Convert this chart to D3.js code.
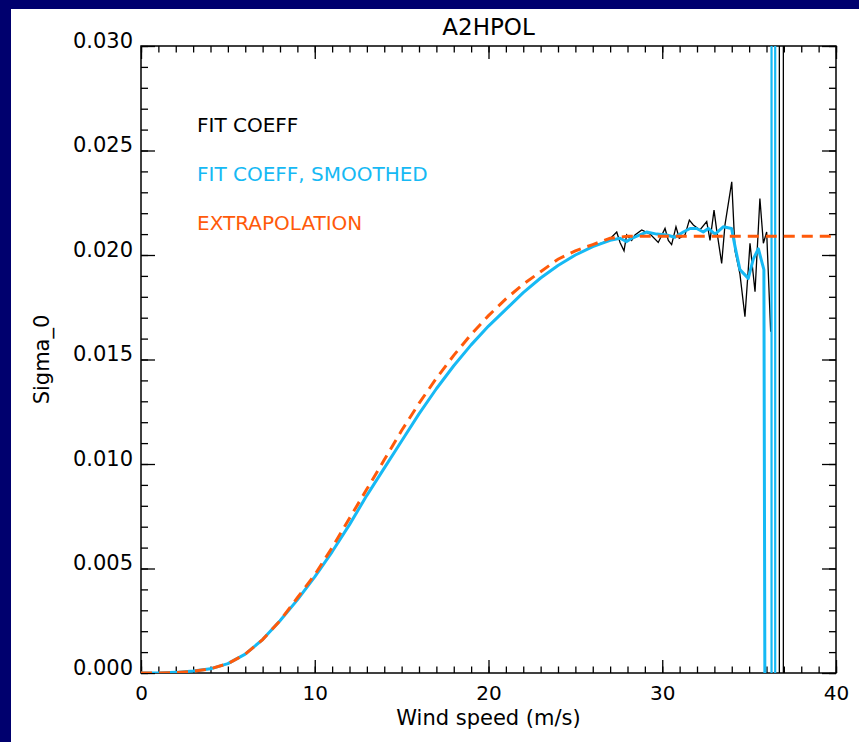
<!DOCTYPE html>
<html>
<head>
<meta charset="utf-8">
<script src="https://cdn.jsdelivr.net/npm/d3@7"></script>
<style>
    body { margin: 0; background: #ffffff; }
    text { font-family: "DejaVu Sans", sans-serif; }
</style>
</head>
<body>
<div id="chart"></div>
<script>
// wind speed grid for the smooth part (m/s)
const speedHead = [0, 1, 2, 3, 4, 5, 6, 7, 8, 9, 10, 11, 12, 13, 14, 15, 16, 17, 18, 19, 20, 21, 22, 23, 24, 25, 26]
// fit coefficient, smooth part (shared by raw and smoothed curve)
const fitHead = [0, 0.00000, 0.00003, 0.0001, 0.0002, 0.00045, 0.0009, 0.0016, 0.0025, 0.0035, 0.0046, 0.0058, 0.0071, 0.0085, 0.0098, 0.0111, 0.0124, 0.0136, 0.0147, 0.0157, 0.0166, 0.0174, 0.0182, 0.0189, 0.0195, 0.0200, 0.0204]

// raw fit coeff, noisy tail
const rawTailX = [26.9, 27.38, 27.57, 27.8, 27.95, 28.24, 28.43, 28.82, 29.3, 29.77, 30.16, 30.35, 30.54, 30.79, 30.98, 31.31, 31.56, 31.79, 32.17, 32.56, 32.75, 32.98, 33.13, 33.42, 33.61, 34.0, 34.19, 34.47, 34.76, 34.95, 35.05, 35.34, 35.62, 35.82, 36.01, 36.24]
const rawTailY = [0.0207, 0.0211, 0.0206, 0.0202, 0.02096, 0.0207, 0.02096, 0.0212, 0.0210, 0.0206, 0.02127, 0.0207, 0.0205, 0.02135, 0.0208, 0.02096, 0.02167, 0.02144, 0.0212, 0.0216, 0.0207, 0.02215, 0.0212, 0.0196, 0.02144, 0.0235, 0.0202, 0.0191, 0.01705, 0.0193, 0.02056, 0.01824, 0.0227, 0.02056, 0.0211, 0.01633]

// smoothed fit coeff, tail (last point runs off the bottom)
const smoothTailX = [27.0, 27.57, 27.95, 28.24, 28.72, 29.1, 29.68, 30.25, 30.73, 31.21, 31.6, 31.98, 32.36, 32.65, 33.04, 33.51, 33.99, 34.19, 34.47, 34.95, 35.24, 35.53, 35.85, 35.92]
const smoothTailY = [0.0207, 0.0208, 0.02064, 0.0208, 0.02096, 0.0211, 0.0210, 0.02096, 0.02085, 0.0211, 0.02127, 0.02127, 0.0211, 0.02127, 0.0210, 0.02135, 0.02127, 0.0204, 0.0193, 0.01888, 0.0198, 0.0203, 0.0193, -0.005]

// extrapolation
const extrapX = [0, 1, 2, 3, 4, 5, 6, 7, 8, 9, 10, 11, 12, 13, 14, 15, 16, 17, 18, 19, 20, 21, 22, 23, 24, 25, 26, 27, 28, 40]
const extrapY = [0, 0, 0.00002, 0.00008, 0.0002, 0.00045, 0.0009, 0.0016, 0.0025, 0.0036, 0.0047, 0.0060, 0.0074, 0.0088, 0.0102, 0.0116, 0.0129, 0.0141, 0.0152, 0.0162, 0.0171, 0.0179, 0.0186, 0.0192, 0.0198, 0.0202, 0.0205, 0.0208, 0.0209, 0.0209]

// speeds where the curves blow up (lines off the whole plot)
const smoothSpikes = [36.29, 36.50]
const rawSpikes = [36.74, 36.97]

const xTicks = [0, 10, 20, 30, 40]
const yTicks = [0, 0.005, 0.010, 0.015, 0.020, 0.025, 0.030]

const legendNames = ["FIT COEFF", "FIT COEFF, SMOOTHED", "EXTRAPOLATION"]

const colBlack = "#000000", colCyan = "#16b9f4", colOrange = "#ff5a0a"
const legendColors = [colBlack, colCyan, colOrange]

function dataViz() {
    const W = 859, H = 742
    const margin = { left: 141, top: 46, right: 23, bottom: 69 }

    const x = d3.scaleLinear().domain([0, 40]).range([margin.left, W - margin.right])
    const y = d3.scaleLinear().domain([0, 0.03]).range([H - margin.bottom, margin.top])

    const svg = d3.select("#chart").append("svg")
        .attr("width", W)
        .attr("height", H)

    // navy frame on top and left
    svg.append("rect").attr("x", 0).attr("y", 0).attr("width", W).attr("height", H).attr("fill", "#00006e")
    svg.append("rect").attr("x", 11).attr("y", 9).attr("width", W - 11).attr("height", H - 9).attr("fill", "#ffffff")

    svg.append("clipPath").attr("id", "plotclip")
        .append("rect")
        .attr("x", x(0)).attr("y", y(0.03))
        .attr("width", x(40) - x(0)).attr("height", y(0) - y(0.03))

    //axes, ticks pointing inwards on all four sides
    const fmtY = d3.format(".3f")
    function styleAxis(g) {
        g.select(".domain").remove()
        g.selectAll(".tick line").attr("stroke", "#000").attr("stroke-width", 1.3)
    }
    const minorX = d3.range(0, 41, 1)
    const minorY = d3.range(0, 0.0301, 0.001)

    svg.append("g").attr("transform", "translate(0," + y(0) + ")")
        .call(d3.axisBottom(x).tickValues(minorX).tickSize(-6.5).tickFormat(""))
        .call(styleAxis)
    svg.append("g").attr("transform", "translate(0," + y(0.03) + ")")
        .call(d3.axisTop(x).tickValues(minorX).tickSize(-6.5).tickFormat(""))
        .call(styleAxis)
    svg.append("g").attr("transform", "translate(" + x(0) + ",0)")
        .call(d3.axisLeft(y).tickValues(minorY).tickSize(-7).tickFormat(""))
        .call(styleAxis)
    svg.append("g").attr("transform", "translate(" + x(40) + ",0)")
        .call(d3.axisRight(y).tickValues(minorY).tickSize(-7).tickFormat(""))
        .call(styleAxis)

    const xAxis = svg.append("g").attr("transform", "translate(0," + y(0) + ")")
        .call(d3.axisBottom(x).tickValues(xTicks).tickSize(-13).tickPadding(13).tickFormat(d3.format("d")))
        .call(styleAxis)
    xAxis.selectAll("text").attr("font-size", 20).attr("fill", "#000").style("font-family", "DejaVu Sans")
    svg.append("g").attr("transform", "translate(0," + y(0.03) + ")")
        .call(d3.axisTop(x).tickValues(xTicks).tickSize(-13).tickFormat(""))
        .call(styleAxis)

    const yAxis = svg.append("g").attr("transform", "translate(" + x(0) + ",0)")
        .call(d3.axisLeft(y).tickValues(yTicks).tickSize(-14).tickPadding(8).tickFormat(fmtY))
        .call(styleAxis)
    yAxis.selectAll("text").attr("font-size", 21).attr("dy", "0.05em").attr("fill", "#000").style("font-family", "DejaVu Sans")
    svg.append("g").attr("transform", "translate(" + x(40) + ",0)")
        .call(d3.axisRight(y).tickValues(yTicks).tickSize(-14).tickFormat(""))
        .call(styleAxis)

    // plot box
    svg.append("rect")
        .attr("x", x(0)).attr("y", y(0.03))
        .attr("width", x(40) - x(0)).attr("height", y(0) - y(0.03))
        .attr("fill", "none").attr("stroke", "#000").attr("stroke-width", 1.5)

    const line = d3.line().x(d => x(d[0])).y(d => y(d[1]))
    const plot = svg.append("g").attr("clip-path", "url(#plotclip)")

    const rawData = speedHead.map((s, i) => [s, fitHead[i]]).concat(rawTailX.map((s, i) => [s, rawTailY[i]]))
    const smoothData = speedHead.map((s, i) => [s, fitHead[i]]).concat(smoothTailX.map((s, i) => [s, smoothTailY[i]]))
    const extrapData = extrapX.map((s, i) => [s, extrapY[i]])

    plot.append("path").datum(rawData)
        .attr("d", line).attr("fill", "none").attr("stroke", colBlack).attr("stroke-width", 1.3)
    plot.selectAll("line.rawspike").data(rawSpikes).enter().append("line")
        .attr("class", "rawspike")
        .attr("x1", d => x(d)).attr("x2", d => x(d))
        .attr("y1", y(0.03)).attr("y2", y(0))
        .attr("stroke", colBlack).attr("stroke-width", 1.3)

    plot.append("path").datum(smoothData)
        .attr("d", line).attr("fill", "none").attr("stroke", colCyan).attr("stroke-width", 3)
        .attr("stroke-linejoin", "round")
    plot.selectAll("line.smoothspike").data(smoothSpikes).enter().append("line")
        .attr("class", "smoothspike")
        .attr("x1", d => x(d)).attr("x2", d => x(d))
        .attr("y1", y(0.03)).attr("y2", y(0))
        .attr("stroke", colCyan).attr("stroke-width", 2.2)

    plot.append("path").datum(extrapData)
        .attr("d", line).attr("fill", "none").attr("stroke", colOrange).attr("stroke-width", 3)
        .attr("stroke-dasharray", "11,7")

    // legend (plain coloured labels)
    svg.selectAll("text.legend").data(legendNames).enter().append("text")
        .attr("class", "legend")
        .attr("x", 197)
        .attr("y", (d, i) => 132 + i * 49)
        .attr("font-size", 20)
        .attr("fill", (d, i) => legendColors[i])
        .text(d => d)

    //titles
    svg.append("text")
        .attr("x", (x(0) + x(40)) / 2).attr("y", 35)
        .attr("text-anchor", "middle").attr("font-size", 23)
        .text("A2HPOL")
    svg.append("text")
        .attr("x", (x(0) + x(40)) / 2).attr("y", 725)
        .attr("text-anchor", "middle").attr("font-size", 21)
        .text("Wind speed (m/s)")
    svg.append("text")
        .attr("transform", "translate(49," + (y(0) + y(0.03)) / 2 + ") rotate(-90)")
        .attr("text-anchor", "middle").attr("font-size", 21)
        .text("Sigma_0")
}
dataViz()
</script>
</body>
</html>
